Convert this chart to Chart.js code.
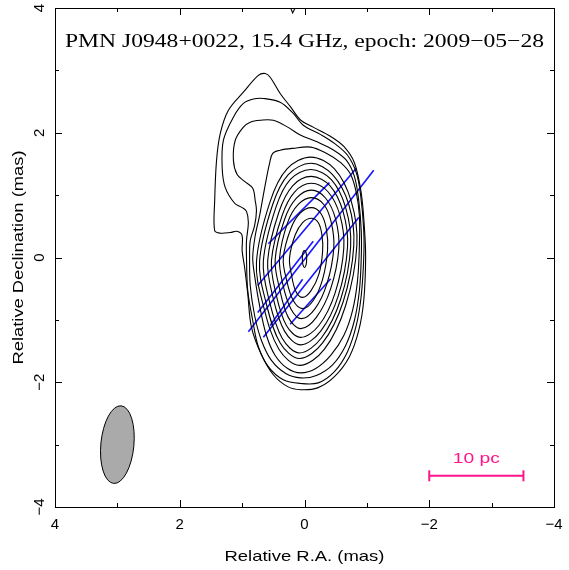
<!DOCTYPE html>
<html>
<head>
<meta charset="utf-8">
<script src="https://cdn.jsdelivr.net/npm/chart.js@4"></script>
<style>
  html, body { margin: 0; padding: 0; background: #fff; }
  canvas { display: block; }
</style>
</head>
<body>
<canvas id="map" width="569" height="570"></canvas>
<script>
// contour levels, relative RA / Dec in mas, innermost first
var coreRing = [[0, 0.11], [-0.025, 0.08], [-0.035, -0.02], [-0.025, -0.12], [0, -0.16], [0.025, -0.12], [0.035, -0.02], [0.025, 0.08]];
var ring1 = [[-0.11, 0.63], [-0.22, 0.56], [-0.28, 0.36], [-0.29, 0.09], [-0.23, -0.27], [-0.10, -0.54], [0.03, -0.64], [0.14, -0.54], [0.21, -0.27], [0.24, -0.01], [0.15, 0.36], [0.03, 0.56]];
var ring2 = [[-0.11, 0.80], [-0.26, 0.71], [-0.35, 0.46], [-0.37, 0.12], [-0.29, -0.35], [-0.14, -0.69], [0.03, -0.82], [0.18, -0.69], [0.29, -0.35], [0.34, -0.01], [0.22, 0.46], [0.07, 0.71]];
var ring3 = [[-0.11, 0.96], [-0.31, 0.85], [-0.43, 0.56], [-0.47, 0.15], [-0.36, -0.42], [-0.17, -0.82], [0.05, -0.98], [0.22, -0.82], [0.35, -0.42], [0.40, -0.01], [0.27, 0.56], [0.10, 0.85]];
var ring4 = [[-0.11, 1.08], [-0.34, 0.95], [-0.50, 0.61], [-0.55, 0.14], [-0.42, -0.50], [-0.19, -0.96], [0.06, -1.14], [0.26, -0.96], [0.40, -0.50], [0.47, -0.03], [0.32, 0.61], [0.13, 0.95]];
var ring5 = [[-0.11, 1.19], [-0.38, 1.05], [-0.57, 0.67], [-0.63, 0.15], [-0.49, -0.57], [-0.23, -1.09], [0.06, -1.28], [0.29, -1.09], [0.46, -0.57], [0.53, -0.05], [0.36, 0.67], [0.16, 1.05]];
var ring6 = [[-0.11, 1.30], [-0.41, 1.15], [-0.62, 0.73], [-0.69, 0.17], [-0.54, -0.62], [-0.26, -1.18], [0.06, -1.40], [0.32, -1.18], [0.51, -0.62], [0.59, -0.05], [0.41, 0.73], [0.19, 1.15]];
var ring7 = [[-0.10, 1.41], [-0.43, 1.25], [-0.66, 0.80], [-0.74, 0.18], [-0.58, -0.67], [-0.27, -1.29], [0.08, -1.53], [0.36, -1.29], [0.57, -0.67], [0.66, -0.06], [0.46, 0.80], [0.23, 1.25]];
var ring8 = [[-0.10, 1.51], [-0.45, 1.33], [-0.71, 0.85], [-0.79, 0.19], [-0.62, -0.71], [-0.29, -1.37], [0.08, -1.62], [0.39, -1.37], [0.62, -0.71], [0.72, -0.06], [0.51, 0.85], [0.26, 1.33]];
var ring9 = [[-0.10, 1.61], [-0.48, 1.42], [-0.75, 0.90], [-0.84, 0.20], [-0.66, -0.77], [-0.32, -1.47], [0.08, -1.73], [0.41, -1.47], [0.66, -0.77], [0.77, -0.07], [0.55, 0.90], [0.28, 1.42]];
var ring10 = [[0.51, 1.67], [0.39, 1.72], [0.19, 1.75], [-0.10, 1.77], [-0.35, 1.67], [-0.58, 1.52], [-0.74, 1.33], [-0.83, 1.04], [-0.88, 0.67], [-0.88, 0.19], [-0.85, -0.37], [-0.77, -0.85], [-0.63, -1.25], [-0.42, -1.57], [-0.18, -1.78], [0.06, -1.85], [0.27, -1.78], [0.47, -1.57], [0.61, -1.25], [0.72, -0.77], [0.80, -0.29], [0.83, 0.00], [0.79, 0.35], [0.72, 0.67], [0.66, 1.00], [0.61, 1.27], [0.56, 1.51]];
var ring11 = [[0.71, 2.20], [0.50, 2.20], [0.27, 2.09], [0.06, 1.96], [-0.21, 1.85], [-0.47, 1.72], [-0.67, 1.56], [-0.80, 1.30], [-0.87, 0.91], [-0.91, 0.43], [-0.91, 0.00], [-0.88, -0.53], [-0.80, -1.01], [-0.66, -1.41], [-0.45, -1.72], [-0.19, -1.89], [0.06, -1.93], [0.30, -1.86], [0.53, -1.65], [0.69, -1.33], [0.80, -0.93], [0.87, -0.45], [0.88, 0.00], [0.87, 0.27], [0.80, 0.51], [0.77, 0.75], [0.79, 0.91], [0.83, 1.11], [0.96, 1.22], [1.08, 1.33], [1.14, 1.56], [1.11, 1.88], [0.98, 2.09], [0.87, 2.17]];
var ring12 = [[0.66, 2.55], [0.39, 2.49], [0.18, 2.31], [0.02, 2.12], [-0.26, 1.97], [-0.48, 1.83], [-0.69, 1.64], [-0.83, 1.36], [-0.90, 1.00], [-0.95, 0.43], [-0.95, 0.00], [-0.91, -0.61], [-0.83, -1.09], [-0.69, -1.51], [-0.48, -1.83], [-0.22, -2.01], [0.06, -2.02], [0.34, -1.96], [0.58, -1.75], [0.74, -1.43], [0.83, -1.01], [0.91, -0.53], [0.93, 0.00], [0.93, 0.27], [0.90, 0.56], [0.93, 0.74], [1.00, 0.80], [1.12, 0.87], [1.27, 1.12], [1.32, 1.44], [1.30, 1.88], [1.14, 2.25], [0.98, 2.47], [0.82, 2.54]];
var ring13 = [[0.63, 2.95], [0.55, 2.89], [0.39, 2.63], [0.22, 2.41], [0.06, 2.20], [-0.14, 2.09], [-0.42, 1.94], [-0.63, 1.78], [-0.80, 1.52], [-0.91, 1.03], [-0.96, 0.48], [-0.98, 0.00], [-0.95, -0.69], [-0.87, -1.17], [-0.72, -1.59], [-0.48, -1.91], [-0.21, -2.09], [0.06, -2.12], [0.27, -2.07], [0.50, -1.88], [0.69, -1.56], [0.85, -1.12], [0.91, -0.58], [0.96, -0.16], [1.00, 0.11], [1.00, 0.35], [1.08, 0.42], [1.19, 0.40], [1.35, 0.39], [1.44, 0.43], [1.44, 0.91], [1.41, 1.56], [1.35, 1.99], [1.22, 2.36], [0.98, 2.65], [0.74, 2.92]];
var contours = [coreRing, ring1, ring2, ring3, ring4, ring5, ring6, ring7, ring8, ring9, ring10, ring11, ring12, ring13];

// bit of a contour cut by the top edge
var edgeBit = [[0.23, 4.02], [0.19, 3.92], [0.14, 4.02]];

// polarization sticks: x1, y1, x2, y2 (mas)
var evpaSticks = [
  [0.58, 0.22, -0.40, 1.20],
  [0.75, -0.45, -0.83, 1.43],
  [0.90, -1.19, -1.11, 1.40],
  [0.75, -0.88, -0.14, 0.26],
  [0.66, -1.28, -0.87, 0.64],
  [0.55, -1.09, 0.03, -0.35],
  [0.23, -1.07, -0.42, -0.34]
];

// restoring beam (mas, deg)
var beamX = 3.0, beamY = -3.0, beamMaj = 0.625, beamMin = 0.265, beamPA = -5.5;

// linear scale bar
var barFrom = -2.0, barTo = -3.51, barY = -3.5, barLabel = '10 pc';

var xTickVals = [4, 2, 0, -2, -4];
var yTickVals = [4, 2, 0, -2, -4];
var tickText = ['4', '2', '0', '\u22122', '\u22124'];
var titleText = 'PMN J0948+0022, 15.4 GHz, epoch: 2009\u221205\u221228';
var xTitle = 'Relative R.A. (mas)';
var yTitle = 'Relative Declination (mas)';

var pink = 'rgb(255,20,140)';

function toPoints(arr) {
  return arr.map(function (p) { return { x: p[0], y: p[1] }; });
}

var datasets = [];
contours.forEach(function (ring) {
  datasets.push({
    data: toPoints(ring),
    borderColor: '#000',
    borderWidth: 1.1,
    pointRadius: 0,
    tension: 0.35,
    closed: true
  });
});
datasets.push({ data: toPoints(edgeBit), borderColor: '#000', borderWidth: 1.1, pointRadius: 0, tension: 0 });
evpaSticks.forEach(function (s) {
  datasets.push({
    data: [{ x: s[0], y: s[1] }, { x: s[2], y: s[3] }],
    borderColor: '#1414ff',
    borderWidth: 1.6,
    pointRadius: 0,
    tension: 0
  });
});
datasets.push({
  data: [{ x: barFrom, y: barY }, { x: barTo, y: barY }],
  borderColor: pink,
  borderWidth: 2,
  pointStyle: 'line',
  pointRadius: 5.5,
  pointRotation: 90,
  pointBorderColor: pink,
  pointBorderWidth: 2,
  tension: 0
});

function drawText(ctx, str, x, y, font, color, width, angle, baseline) {
  ctx.save();
  ctx.translate(x, y);
  if (angle) ctx.rotate(angle);
  ctx.font = font;
  ctx.fillStyle = color;
  ctx.textAlign = 'center';
  ctx.textBaseline = baseline || 'alphabetic';
  if (width) {
    var w = ctx.measureText(str).width;
    ctx.scale(width / w, 1);
  }
  ctx.fillText(str, 0, 0);
  ctx.restore();
}

var mapPlugin = {
  id: 'mapDecor',
  afterDatasetsUpdate: function (chart) {
    // close the contour loops so the smoothing wraps round
    chart.data.datasets.forEach(function (ds, i) {
      if (ds.closed) {
        var line = chart.getDatasetMeta(i).dataset;
        line._loop = true;
        line._fullLoop = true;
      }
    });
  },
  beforeDatasetsDraw: function (chart) {
    var ctx = chart.ctx, xs = chart.scales.x, ys = chart.scales.y;
    var cx = xs.getPixelForValue(beamX), cy = ys.getPixelForValue(beamY);
    var rx = Math.abs(xs.getPixelForValue(beamX + beamMin) - cx);
    var ry = Math.abs(ys.getPixelForValue(beamY + beamMaj) - cy);
    ctx.save();
    ctx.beginPath();
    ctx.ellipse(cx, cy, rx, ry, -beamPA * Math.PI / 180, 0, 2 * Math.PI);
    ctx.fillStyle = '#aaaaaa';
    ctx.fill();
    ctx.lineWidth = 1;
    ctx.strokeStyle = '#000';
    ctx.stroke();
    ctx.restore();
  },
  afterDraw: function (chart) {
    var ctx = chart.ctx, a = chart.chartArea, xs = chart.scales.x, ys = chart.scales.y;
    ctx.save();
    ctx.strokeStyle = '#000';
    ctx.lineWidth = 1;
    ctx.strokeRect(Math.round(a.left) + 0.5, Math.round(a.top) + 0.5, Math.round(a.right - a.left), Math.round(a.bottom - a.top));
    ctx.beginPath();
    for (var v = -3; v <= 3; v++) {
      var len = v % 2 === 0 ? 7 : 4;
      var px = Math.round(xs.getPixelForValue(v)) + 0.5;
      ctx.moveTo(px, a.bottom); ctx.lineTo(px, a.bottom - len);
      ctx.moveTo(px, a.top); ctx.lineTo(px, a.top + len);
      var py = Math.round(ys.getPixelForValue(v)) + 0.5;
      ctx.moveTo(a.left, py); ctx.lineTo(a.left + len, py);
      ctx.moveTo(a.right, py); ctx.lineTo(a.right - len, py);
    }
    ctx.stroke();
    ctx.restore();

    var tickFont = '15px "Liberation Sans", Arial, sans-serif';
    xTickVals.forEach(function (v, i) {
      drawText(ctx, tickText[i], xs.getPixelForValue(v), a.bottom + 22, tickFont, '#000');
    });
    yTickVals.forEach(function (v, i) {
      drawText(ctx, tickText[i], a.left - 11, ys.getPixelForValue(v), tickFont, '#000', 0, -Math.PI / 2);
    });

    var labelFont = '15px "Liberation Sans", Arial, sans-serif';
    drawText(ctx, xTitle, (a.left + a.right) / 2, a.bottom + 54, labelFont, '#000', 160);
    drawText(ctx, yTitle, a.left - 32, (a.top + a.bottom) / 2, labelFont, '#000', 214, -Math.PI / 2);

    drawText(ctx, titleText, (a.left + a.right) / 2, a.top + 39, '19px "Liberation Serif", "Times New Roman", serif', '#000', 479);

    var bx = (xs.getPixelForValue(barFrom) + xs.getPixelForValue(barTo)) / 2;
    drawText(ctx, barLabel, bx, ys.getPixelForValue(barY) - 13, '15px "Liberation Sans", Arial, sans-serif', pink, 47);
  }
};

var map = new Chart(document.getElementById('map'), {
  type: 'line',
  data: { datasets: datasets },
  options: {
    responsive: false,
    devicePixelRatio: 1,
    animation: false,
    layout: { padding: { left: 55, right: 15, top: 8, bottom: 63 } },
    plugins: { legend: { display: false }, tooltip: { enabled: false } },
    events: [],
    scales: {
      x: { type: 'linear', min: -4, max: 4, reverse: true, display: false },
      y: { type: 'linear', min: -4, max: 4, display: false }
    }
  },
  plugins: [mapPlugin]
});
</script>
</body>
</html>
